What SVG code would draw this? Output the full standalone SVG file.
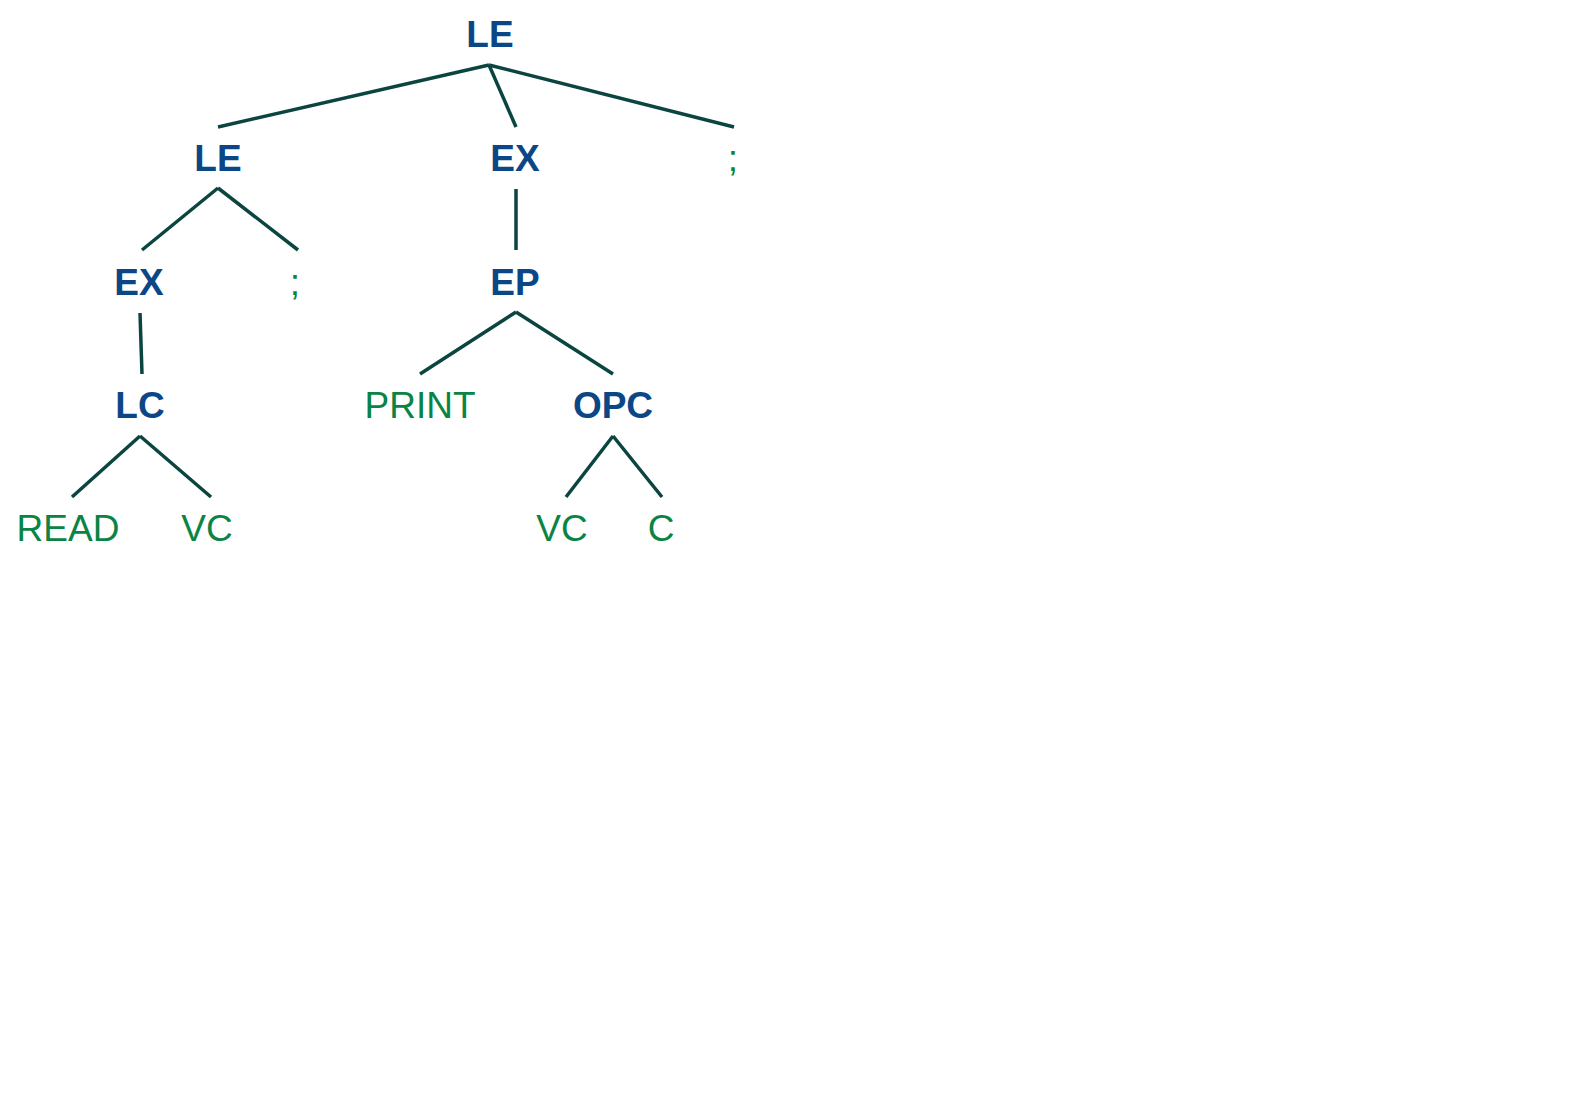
<svg xmlns="http://www.w3.org/2000/svg" width="1588" height="1117" viewBox="0 0 1588 1117">
<style>
.nt{font-family:"Liberation Sans",Arial,sans-serif;font-weight:bold;font-size:37px;fill:#0b4786;text-anchor:middle}
.t{font-family:"Liberation Sans",Arial,sans-serif;font-size:37px;fill:#0a8444;text-anchor:middle}
.e{stroke:#0b4540;stroke-width:3.5;fill:none}
</style>
<rect width="1588" height="1117" fill="#fff"/>
<g id="connectors">
<line class="e" x1="489" y1="65" x2="218" y2="127"/>
<line class="e" x1="489" y1="65" x2="516" y2="127"/>
<line class="e" x1="489" y1="65" x2="734" y2="127"/>
<line class="e" x1="218" y1="188" x2="142" y2="250"/>
<line class="e" x1="218" y1="188" x2="298" y2="250"/>
<line class="e" x1="516" y1="189" x2="516" y2="250"/>
<line class="e" x1="140" y1="313" x2="142" y2="374"/>
<line class="e" x1="516" y1="312" x2="420" y2="374"/>
<line class="e" x1="516" y1="312" x2="613" y2="374"/>
<line class="e" x1="140" y1="436" x2="72" y2="497"/>
<line class="e" x1="140" y1="436" x2="211" y2="497"/>
<line class="e" x1="613" y1="436" x2="566" y2="497"/>
<line class="e" x1="613" y1="436" x2="662" y2="497"/>
</g>
<g id="n_le_root"><text class="nt" x="490" y="47">LE</text></g>
<g id="n_le"><text class="nt" x="218" y="171">LE</text></g>
<g id="n_ex_top"><text class="nt" x="515" y="171">EX</text></g>
<g id="n_semi_top"><text class="t" x="733" y="171">;</text></g>
<g id="n_ex"><text class="nt" x="139" y="295">EX</text></g>
<g id="n_semi"><text class="t" x="295" y="295">;</text></g>
<g id="n_ep"><text class="nt" x="515" y="295">EP</text></g>
<g id="n_lc"><text class="nt" x="140" y="418">LC</text></g>
<g id="n_print"><text class="t" x="420" y="418">PRINT</text></g>
<g id="n_opc"><text class="nt" x="613" y="418">OPC</text></g>
<g id="n_read"><text class="t" x="68" y="541">READ</text></g>
<g id="n_vc1"><text class="t" x="207" y="541">VC</text></g>
<g id="n_vc2"><text class="t" x="562" y="541">VC</text></g>
<g id="n_c"><text class="t" x="661" y="541">C</text></g>
</svg>
